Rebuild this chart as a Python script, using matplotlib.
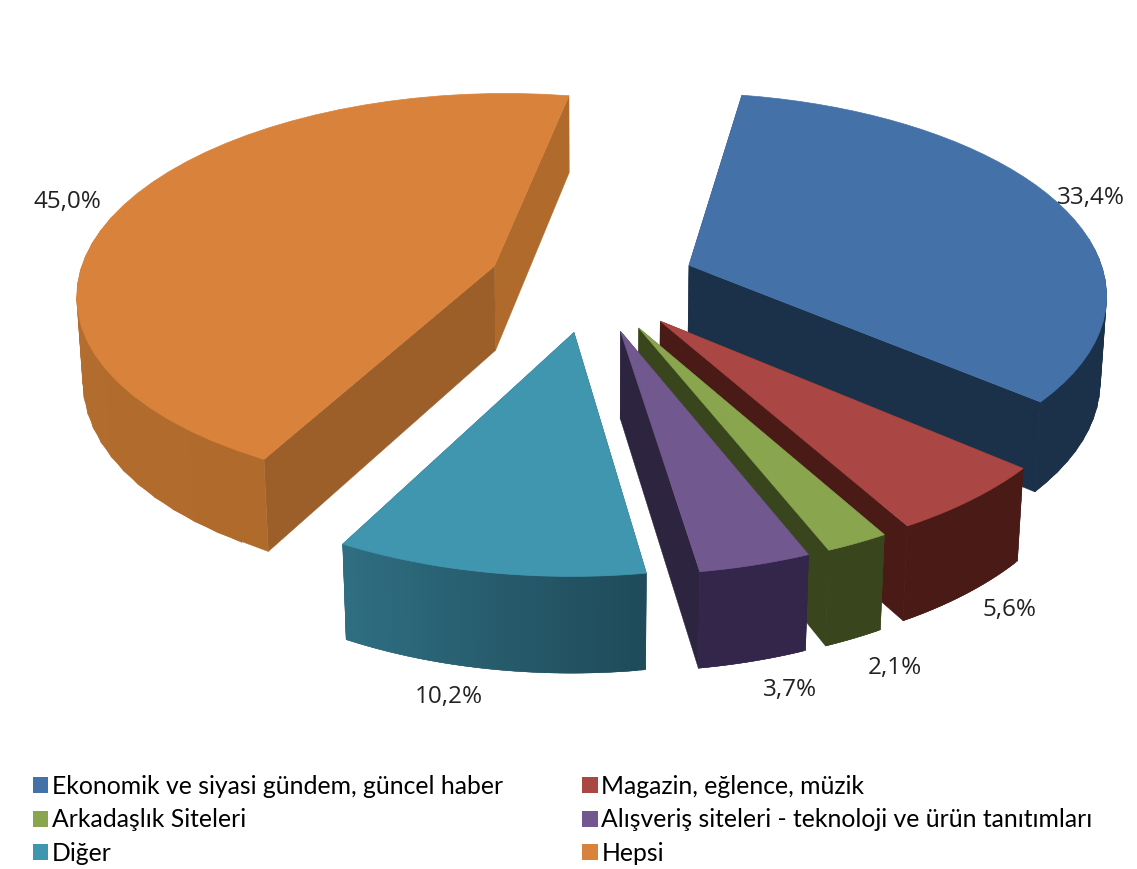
import numpy as np
import matplotlib
matplotlib.use('Agg')
import matplotlib.pyplot as plt
from matplotlib.patches import Polygon, Patch
from matplotlib.colors import to_rgb

categories = ['Ekonomik ve siyasi gündem, güncel haber', 'Magazin, eğlence, müzik', 'Arkadaşlık Siteleri',
              'Alışveriş siteleri - teknoloji ve ürün tanıtımları', 'Diğer', 'Hepsi']
shares = [33.4, 5.6, 2.1, 3.7, 10.2, 45.0]

top_colors = ['#4472A8', '#AA4643', '#89A54E', '#71588F', '#4096AF', '#D8823B']
wall_start = ['#1B3049', '#4A1A16', '#39461D', '#33264A', '#1F4B5A', '#B06A2C']
wall_end = ['#1B3049', '#4A1A16', '#39461D', '#33264A', '#2F6E82', '#B87232']
side_start = ['#1B3049', '#4A1A16', '#39461D', '#2D2440', '#1F4B5A', '#9C5F2A']
side_end = ['#1B3049', '#4A1A16', '#39461D', '#2D2440', '#1F4B5A', '#B06A2C']
label_pos = [(1091, 198), (1009, 610), (895, 668), (790, 690), (449, 697), (67, 202)]
draw_order = [5, 0, 1, 2, 3, 4]

# projection of the pie, all in pixels of the 1137x869 image
cx, cy = 592, 282
scale_x, scale_y = 417, 198.5
persp = 0.128
depth = 86
shrink = 0.012
explode = 0.25
rotation = 10


def project(x, y, bottom=False):
    w = 1 + persp * y + (shrink if bottom else 0)
    sy = scale_y * y - (depth if bottom else 0)
    return cx + scale_x * x / w, cy - sy / w


def mix(c1, c2, t):
    a, b = np.array(to_rgb(c1)), np.array(to_rgb(c2))
    return a + (b - a) * t


def quad(p1, p2, color, zorder):
    pts = [project(*p1), project(*p2), project(*p2, bottom=True), project(*p1, bottom=True)]
    ax.add_patch(Polygon(pts, closed=True, facecolor=color, edgecolor=color, lw=0.3, zorder=zorder))


fig = plt.figure(figsize=(11.37, 8.69), dpi=100)
ax = fig.add_axes([0, 0, 1, 1])
ax.set_xlim(0, 1137)
ax.set_ylim(869, 0)
ax.axis('off')

edges = np.cumsum([0] + shares) / sum(shares) * 360 + rotation
z = 1
for i in draw_order:
    a0, a1 = np.radians(edges[i]), np.radians(edges[i + 1])
    mid = (a0 + a1) / 2
    ox, oy = explode * np.sin(mid), explode * np.cos(mid)
    angles = np.linspace(a0, a1, 41)
    rim = [(ox + np.sin(a), oy + np.cos(a)) for a in angles]
    apex = (ox, oy)

    # walls back to front, the top face covers whatever is hidden
    sides = [(rim[0], side_start[i]), (rim[-1], side_end[i])]
    sides.sort(key=lambda s: -s[0][1])
    for p, col in sides:
        quad(apex, p, col, z)
        z += 1
    for k in range(len(rim) - 1):
        if rim[k][1] - oy < 0.15:
            # each strip runs under the next one so no seams show
            quad(rim[k], rim[min(k + 2, len(rim) - 1)], mix(wall_start[i], wall_end[i], k / (len(rim) - 2)), z)
            z += 1
    top = [project(*apex)] + [project(*p) for p in rim]
    ax.add_patch(Polygon(top, closed=True, facecolor=top_colors[i], edgecolor=top_colors[i], lw=0.5, zorder=z))
    z += 1

for share, pos in zip(shares, label_pos):
    ax.text(pos[0], pos[1], f'{share:.1f}%'.replace('.', ','), ha='center', va='center',
            fontsize=17.5, family='Open Sans', color='#222222', zorder=z)

handles = [Patch(facecolor=c, edgecolor='none') for c in top_colors]
order = [0, 2, 4, 1, 3, 5]
ax.legend([handles[i] for i in order], [categories[i] for i in order], ncol=2,
          loc='lower left', bbox_to_anchor=(28 / 1137, 1 - 870 / 869), frameon=False,
          prop={'family': 'Lato', 'size': 17.8}, handlelength=0.62, handleheight=0.62,
          handletextpad=0.15, labelspacing=0.43, columnspacing=3.2, borderpad=0.2, borderaxespad=0)

fig.savefig('out.png', dpi=100)
